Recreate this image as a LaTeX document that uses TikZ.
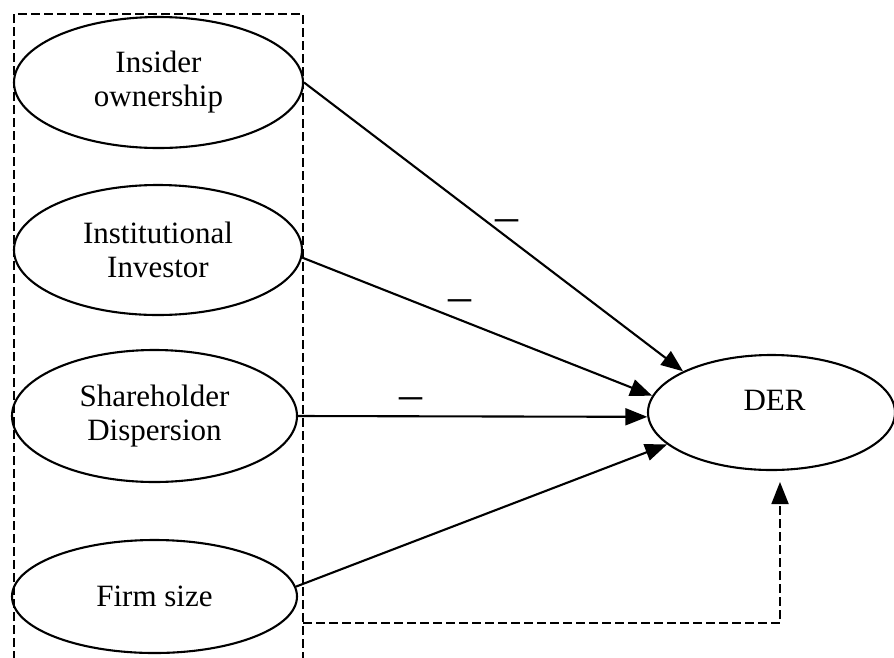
\documentclass[tikz,border=0pt]{standalone}
\usepackage{fontspec}
\setmainfont{Liberation Serif}
\usetikzlibrary{shapes.geometric,arrows.meta}
\begin{document}
\begin{tikzpicture}[x=1pt,y=-1pt,
  oval/.style={draw, ellipse, line width=2.1pt, inner sep=0pt, align=center,
    font=\fontsize{31}{34}\selectfont},
  conn/.style={line width=2.1pt, -{Triangle[length=22pt,width=17pt]}},
  frame/.style={line width=1.9pt, dash pattern=on 9pt off 4pt},
  sign/.style={inner sep=0pt, font=\fontsize{46}{46}\selectfont}]
\useasboundingbox (0,0) rectangle (894,657);
\draw[frame] (14,660) -- (14,14) -- (303,14) -- (303,660);
\node[oval, minimum width=289pt, minimum height=131pt] (ins) at (158.5,82.5) {Insider\\ownership};
\node[oval, minimum width=288pt, minimum height=130pt] (inst) at (158,250) {Institutional\\Investor};
\node[oval, minimum width=285pt, minimum height=132pt] (share) at (154.5,416) {Shareholder\\Dispersion};
\node[oval, minimum width=285pt, minimum height=113pt] (firm) at (154.5,596.5) {Firm size};
\node[oval, minimum width=247pt, minimum height=115pt,
  label={[font=\fontsize{31}{34}\selectfont, yshift=12pt, xshift=3pt]center:DER}] (der) at (771.5,412.5) {};
\draw[conn] (ins.east) -- (der.155);
\draw[conn] (inst.-3) -- (der.172);
\draw[conn] (share.east) -- (der.182);
\draw[conn] (firm.4) -- (der.197);
\coordinate (dstart) at (303,623);
\coordinate (dtip) at (780,482);
\draw[frame, -{Triangle[length=22pt,width=17pt]}] (dstart) -| (dtip);
\node[sign] (m1) at (507,226) {\textendash};
\node[sign] (m2) at (460,306) {\textendash};
\node[sign] (m3) at (411,404) {\textendash};
\end{tikzpicture}
\end{document}
